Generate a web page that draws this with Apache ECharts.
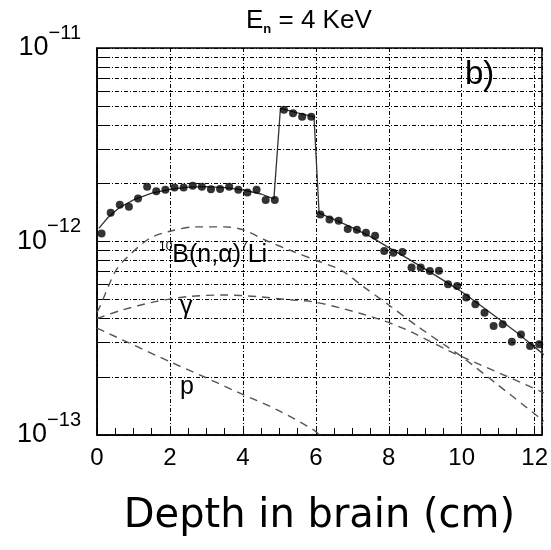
<!DOCTYPE html>
<html>
<head>
<meta charset="utf-8">
<script src="https://cdn.jsdelivr.net/npm/echarts@6/dist/echarts.min.js"></script>
<style>
html, body { margin: 0; padding: 0; background: #fff; }
#chart { width: 551px; height: 550px; }
</style>
</head>
<body>
<div id="chart"></div>
<script>
// measured points (depth in cm, flux)
var depth = [0.125, 0.375, 0.625, 0.875, 1.125, 1.375, 1.625, 1.875, 2.125, 2.375, 2.625, 2.875,
             3.125, 3.375, 3.625, 3.875, 4.125, 4.375, 4.625, 4.875, 5.125, 5.375, 5.625, 5.875,
             6.125, 6.375, 6.625, 6.875, 7.125, 7.375, 7.625, 7.875, 8.125, 8.375, 8.625, 8.875,
             9.125, 9.375, 9.625, 9.875, 10.125, 10.375, 10.625, 10.875, 11.125, 11.375, 11.625, 11.875, 12.125];
var flux = [1.10e-12, 1.41e-12, 1.55e-12, 1.51e-12, 1.67e-12, 1.92e-12, 1.82e-12, 1.85e-12, 1.90e-12, 1.90e-12, 1.94e-12, 1.92e-12,
            1.86e-12, 1.87e-12, 1.92e-12, 1.85e-12, 1.79e-12, 1.85e-12, 1.64e-12, 1.64e-12, 4.80e-12, 4.60e-12, 4.41e-12, 4.41e-12,
            1.38e-12, 1.30e-12, 1.28e-12, 1.16e-12, 1.15e-12, 1.11e-12, 1.07e-12, 8.93e-13, 8.75e-13, 8.83e-13, 7.33e-13, 7.33e-13,
            7.05e-13, 7.07e-13, 6.01e-13, 5.89e-13, 5.13e-13, 4.74e-13, 4.28e-13, 3.66e-13, 3.73e-13, 3.03e-13, 3.31e-13, 2.88e-13, 2.94e-13];

// fitted total (solid)
var fitDepth = [0.05, 0.3, 0.6, 1.0, 1.5, 2.0, 2.5, 3.0, 3.5, 4.0, 4.5, 4.85, 5.03, 5.5, 5.95, 6.09,
                6.5, 7.0, 7.5, 8.0, 8.5, 9.0, 9.5, 10.0, 10.5, 11.0, 11.5, 12.0, 12.25];
var fitFlux = [1.17e-12, 1.33e-12, 1.49e-12, 1.64e-12, 1.78e-12, 1.86e-12, 1.91e-12, 1.92e-12, 1.90e-12, 1.85e-12, 1.76e-12, 1.66e-12,
               4.88e-12, 4.62e-12, 4.40e-12, 1.40e-12,
               1.30e-12, 1.18e-12, 1.06e-12, 9.3e-13, 8.2e-13, 7.2e-13, 6.3e-13, 5.5e-13, 4.7e-13, 4.0e-13, 3.4e-13, 2.85e-13, 2.6e-13];

// 10B(n,alpha)7Li component
var boronDepth = [0, 0.1, 0.5, 0.8, 1.45, 2.0, 2.7, 3.5, 4.0, 4.7, 5.3, 6.0, 6.7, 7.3, 8.0, 8.8, 9.6, 10.0, 11.0, 12.25];
var boronFlux = [4.3e-13, 4.7e-13, 7.0e-13, 8.2e-13, 1.04e-12, 1.13e-12, 1.19e-12, 1.19e-12, 1.15e-12, 1.0e-12, 9.0e-13, 8.0e-13,
                 7.1e-13, 5.85e-13, 4.7e-13, 3.63e-13, 2.86e-13, 2.54e-13, 1.81e-13, 1.18e-13];

// gamma component
var gammaDepth = [0, 0.7, 1.6, 2.5, 3.5, 4.4, 5.3, 5.9, 6.7, 7.8, 8.6, 9.6, 10.5, 11.4, 12.25];
var gammaFlux = [4.0e-13, 4.43e-13, 4.89e-13, 5.19e-13, 5.29e-13, 5.19e-13, 4.99e-13, 4.89e-13, 4.52e-13, 3.93e-13, 3.42e-13,
                 2.75e-13, 2.31e-13, 1.95e-13, 1.65e-13];

// proton component
var protonDepth = [0, 2.0, 2.83, 3.84, 4.94, 5.95, 6.1];
var protonFlux = [3.57e-13, 2.39e-13, 2.04e-13, 1.67e-13, 1.35e-13, 1.06e-13, 1.0e-13];

var yTickVals = [1e-13, 2e-13, 3e-13, 4e-13, 5e-13, 6e-13, 7e-13, 8e-13, 9e-13,
                 1e-12, 2e-12, 3e-12, 4e-12, 5e-12, 6e-12, 7e-12, 8e-12, 9e-12, 1e-11];

function zip(xs, ys) {
    var out = [];
    for (var i = 0; i < xs.length; i++) {
        out.push([xs[i], ys[i]]);
    }
    return out;
}

var gridDash = [4, 2, 1, 2];
var font = 'Liberation Sans';

var myChart = echarts.init(document.getElementById('chart'));

var option = {
    animation: false,
    backgroundColor: '#fff',
    grid: {
        left: 97, right: 8, top: 48, bottom: 115,
        show: true, borderColor: '#000', borderWidth: 1.5
    },
    xAxis: [
        {
            type: 'value',
            min: 0, max: 12.2, interval: 2,
            axisLine: {lineStyle: {color: '#000', width: 1.5}},
            axisTick: {inside: true, length: 7, lineStyle: {color: '#000'}},
            axisLabel: {color: '#000', fontSize: 24, fontFamily: font, margin: 11, showMaxLabel: false},
            splitLine: {show: true, lineStyle: {color: '#000', width: 1, type: gridDash}},
            name: 'Depth in brain (cm)',
            nameLocation: 'middle',
            nameGap: 62,
            nameTextStyle: {color: '#000', fontSize: 40, fontFamily: 'DejaVu Sans'}
        },
        {
            type: 'value',
            position: 'bottom',
            min: 0, max: 12.2, interval: 0.5,
            axisLine: {show: false},
            axisTick: {inside: true, length: 7, lineStyle: {color: '#000'}},
            axisLabel: {show: false},
            splitLine: {show: false}
        }
    ],
    yAxis: {
        type: 'log',
        logBase: 10,
        min: 1e-13, max: 1e-11,
        axisLine: {lineStyle: {color: '#000', width: 1.5}},
        axisTick: {inside: true, length: 12, lineStyle: {color: '#000'}, customValues: yTickVals},
        axisLabel: {
            margin: 16,
            formatter: function (v) {
                var e = Math.round(Math.log10(v));
                return '{b|10}{s|\u2212' + (-e) + '}';
            },
            rich: {
                b: {fontSize: 27, fontFamily: font, color: '#000', lineHeight: 50},
                s: {fontSize: 20, fontFamily: font, color: '#000', lineHeight: 20, verticalAlign: 'top'}
            }
        },
        splitLine: {show: true, lineStyle: {color: '#000', width: 1, type: gridDash}}
    },
    graphic: [
        {
            type: 'text', left: 246, top: 8,
            style: {
                text: '{e|E}{n|n}{e| = 4 KeV}',
                rich: {
                    e: {fontSize: 26, fontFamily: font, fill: '#000', lineHeight: 30},
                    n: {fontSize: 13, fontFamily: font, fontWeight: 'bold', fill: '#000', lineHeight: 30, verticalAlign: 'bottom'}
                }
            }
        },
        {
            type: 'text', left: 465, top: 58,
            style: {text: 'b)', fontSize: 33, fontFamily: font, fill: '#000'}
        },
        {
            type: 'text', left: 159, top: 241,
            style: {
                text: '{s|10}{m|B(n,\u03b1)}{s|7}{m|Li}',
                rich: {
                    s: {fontSize: 12, fontFamily: font, fill: '#000', lineHeight: 12, verticalAlign: 'top'},
                    m: {fontSize: 25, fontFamily: font, fill: '#000', lineHeight: 28}
                }
            }
        },
        {
            type: 'text', left: 180, top: 295,
            style: {text: '\u03b3', fontSize: 25, fontFamily: font, fill: '#000'}
        },
        {
            type: 'text', left: 180, top: 375,
            style: {text: 'p', fontSize: 25, fontFamily: font, fill: '#000'}
        }
    ],
    series: [
        {
            name: 'boron', type: 'line', data: zip(boronDepth, boronFlux),
            showSymbol: false, smooth: 0.3,
            lineStyle: {color: '#555', width: 1.4, type: [8, 6]}
        },
        {
            name: 'gamma', type: 'line', data: zip(gammaDepth, gammaFlux),
            showSymbol: false, smooth: 0.3,
            lineStyle: {color: '#555', width: 1.4, type: [8, 6]}
        },
        {
            name: 'proton', type: 'line', data: zip(protonDepth, protonFlux),
            showSymbol: false, smooth: 0.3,
            lineStyle: {color: '#555', width: 1.4, type: [8, 6]}
        },
        {
            name: 'fit', type: 'line', data: zip(fitDepth, fitFlux),
            showSymbol: false,
            lineStyle: {color: '#333', width: 1.3}
        },
        {
            name: 'data', type: 'scatter', data: zip(depth, flux),
            symbol: 'circle', symbolSize: 8,
            itemStyle: {color: '#000'}, z: 5
        }
    ]
};
myChart.setOption(option);
</script>
</body>
</html>
